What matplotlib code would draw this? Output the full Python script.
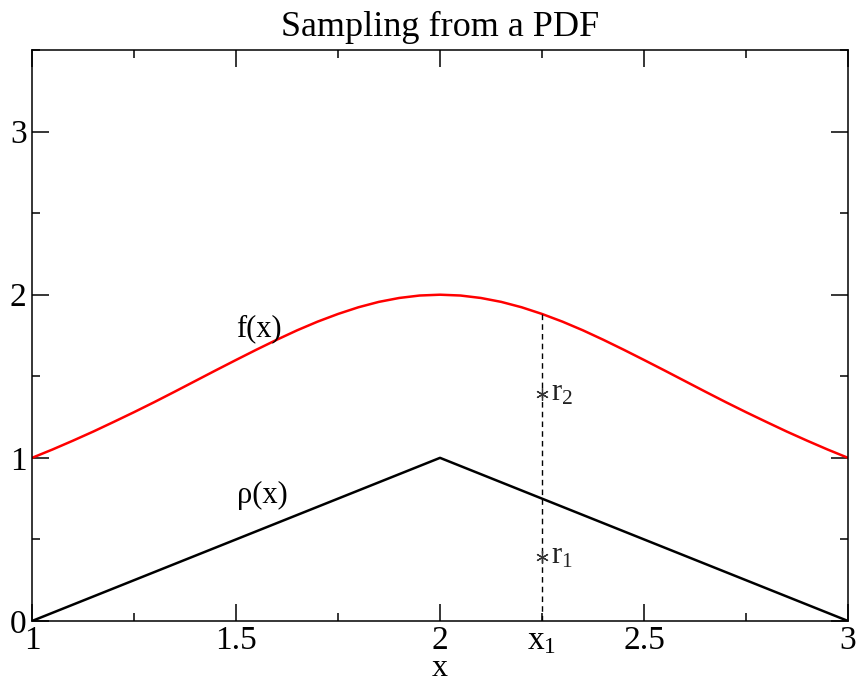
import numpy as np
import matplotlib.pyplot as plt
from matplotlib.ticker import MultipleLocator

# values
x_f = [1.00, 1.05, 1.10, 1.15, 1.20, 1.25, 1.30, 1.35, 1.40, 1.45, 1.50,
       1.55, 1.60, 1.65, 1.70, 1.75, 1.80, 1.85, 1.90, 1.95, 2.00,
       2.05, 2.10, 2.15, 2.20, 2.25, 2.30, 2.35, 2.40, 2.45, 2.50,
       2.55, 2.60, 2.65, 2.70, 2.75, 2.80, 2.85, 2.90, 2.95, 3.00]
f_vals = [1.000, 1.051, 1.105, 1.161, 1.220, 1.280, 1.342, 1.406, 1.471, 1.536, 1.600,
          1.663, 1.724, 1.782, 1.835, 1.882, 1.923, 1.956, 1.980, 1.995, 2.000,
          1.995, 1.980, 1.956, 1.923, 1.882, 1.835, 1.782, 1.724, 1.663, 1.600,
          1.536, 1.471, 1.406, 1.342, 1.280, 1.220, 1.161, 1.105, 1.051, 1.000]
x_rho = [1.0, 2.0, 3.0]
rho_vals = [0.0, 1.0, 0.0]
x1 = 2.25
f_x1 = 1.882
r_vals = [0.39, 1.39]
r_labels = ['r$_1$', 'r$_2$']

plt.rcParams['font.family'] = ['Liberation Serif', 'DejaVu Serif']
plt.rcParams['mathtext.fontset'] = 'custom'
plt.rcParams['mathtext.rm'] = 'Liberation Serif'
plt.rcParams['mathtext.it'] = 'Liberation Serif'

fig = plt.figure(figsize=(8.59, 6.83), dpi=100)
ax = fig.add_axes([0.0373, 0.0908, 0.9499, 0.836])

ax.plot(x_f, f_vals, color='red', lw=1.8)
ax.plot(x_rho, rho_vals, color='black', lw=1.8)
ax.plot([x1, x1], [0, f_x1], color='black', lw=1.0, ls=(0, (4, 3)))
ax.plot([x1] * len(r_vals), r_vals, ls='none', marker=(6, 2, 0),
        ms=9, mew=0.9, color='#333333')
for rv, lab in zip(r_vals, r_labels):
    ax.text(x1 + 0.022, rv + 0.01, lab, fontsize=22, va='center', ha='left',
            color='#222222')

ax.text(1.555, 1.79, 'f(x)', fontsize=22, ha='center', va='center')
ax.text(1.565, 0.77, '\u03c1(x)', fontsize=22, ha='center', va='center')

ax.set_xlim(1, 3)
ax.set_ylim(0, 3.5)
ax.xaxis.set_major_locator(MultipleLocator(0.5))
ax.xaxis.set_minor_locator(MultipleLocator(0.25))
ax.yaxis.set_major_locator(MultipleLocator(1))
ax.yaxis.set_minor_locator(MultipleLocator(0.5))
ax.xaxis.set_major_formatter(lambda v, p: ('%g' % v))
ax.tick_params(which='both', direction='in', top=True, right=True, width=1.1,
               labelsize=24)
ax.tick_params(which='major', length=12, pad=3)
ax.tick_params(axis='y', which='major', pad=4)
ax.tick_params(which='minor', length=6)
ax.text(x1, -0.03, 'x$_1$', fontsize=24, ha='center', va='top')
for sp in ax.spines.values():
    sp.set_linewidth(1.1)

ax.set_xlabel('x', fontsize=23, labelpad=-1)
ax.set_title('Sampling from a PDF', fontsize=26, pad=10)

fig.savefig('out.png', dpi=100)
